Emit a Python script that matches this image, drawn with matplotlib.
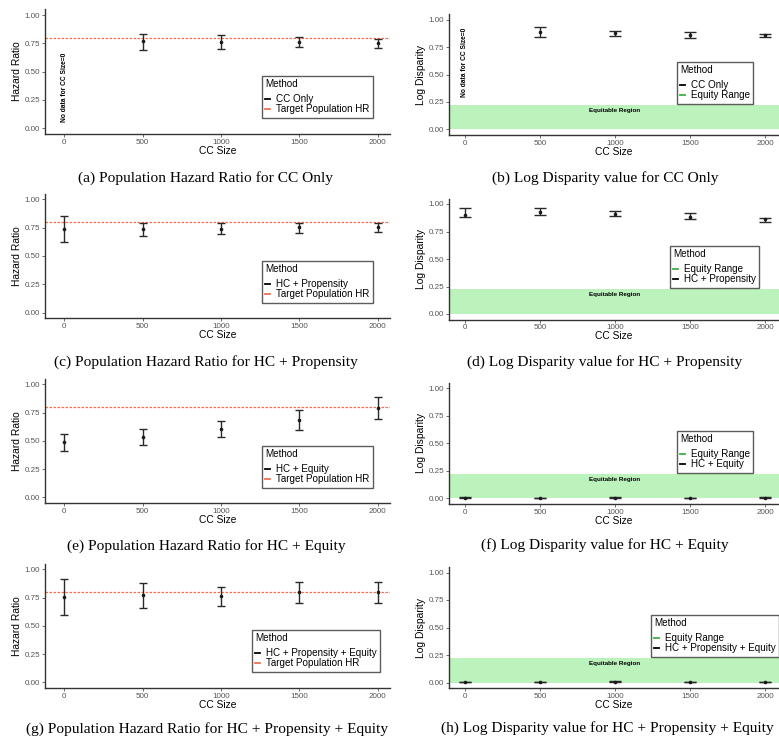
import matplotlib
matplotlib.use("Agg")
import matplotlib.pyplot as plt
from matplotlib.lines import Line2D

plt.rcParams['font.family'] = ['Liberation Sans', 'DejaVu Sans']

# ---------------- data ----------------
cc_size = [0, 500, 1000, 1500, 2000]
cc_size_nozero = [500, 1000, 1500, 2000]

target_hr = 0.80
equity_lo = 0.0
equity_hi = 0.223

# (a) CC Only - hazard ratio
hr_cc_mean = [0.767, 0.758, 0.762, 0.755]
hr_cc_lo = [0.690, 0.696, 0.713, 0.712]
hr_cc_hi = [0.836, 0.820, 0.810, 0.792]

# (b) CC Only - log disparity
ld_cc_mean = [0.890, 0.884, 0.863, 0.860]
ld_cc_lo = [0.848, 0.854, 0.835, 0.848]
ld_cc_hi = [0.933, 0.902, 0.887, 0.872]

# (c) HC + Propensity - hazard ratio
hr_hcp_mean = [0.738, 0.738, 0.740, 0.756, 0.756]
hr_hcp_lo = [0.620, 0.679, 0.691, 0.706, 0.709]
hr_hcp_hi = [0.856, 0.794, 0.788, 0.794, 0.794]

# (d) HC + Propensity - log disparity
ld_hcp_mean = [0.900, 0.930, 0.910, 0.885, 0.860]
ld_hcp_lo = [0.880, 0.897, 0.888, 0.864, 0.840]
ld_hcp_hi = [0.967, 0.967, 0.940, 0.915, 0.876]

# (e) HC + Equity - hazard ratio
hr_hce_mean = [0.487, 0.534, 0.603, 0.685, 0.788]
hr_hce_lo = [0.410, 0.460, 0.531, 0.596, 0.696]
hr_hce_hi = [0.557, 0.605, 0.675, 0.770, 0.885]

# (f) HC + Equity - log disparity
ld_hce_mean = [0.005, 0.004, 0.006, 0.004, 0.005]
ld_hce_lo = [0.002, 0.001, 0.003, 0.001, 0.002]
ld_hce_hi = [0.008, 0.007, 0.009, 0.007, 0.008]

# (g) HC + Propensity + Equity - hazard ratio
hr_hcpe_mean = [0.758, 0.773, 0.764, 0.796, 0.796]
hr_hcpe_lo = [0.593, 0.655, 0.676, 0.699, 0.699]
hr_hcpe_hi = [0.917, 0.876, 0.847, 0.885, 0.888]

# (h) HC + Propensity + Equity - log disparity
ld_hcpe_mean = [0.006, 0.004, 0.007, 0.005, 0.005]
ld_hcpe_lo = [0.003, 0.001, 0.004, 0.002, 0.002]
ld_hcpe_hi = [0.009, 0.007, 0.010, 0.008, 0.008]

yticks = [0.00, 0.25, 0.50, 0.75, 1.00]
ytick_labels = ["0.00", "0.25", "0.50", "0.75", "1.00"]
xticks = [0, 500, 1000, 1500, 2000]
xtick_labels = ["0", "500", "1000", "1500", "2000"]

titles = [
    "(a) Population Hazard Ratio for CC Only",
    "(b) Log Disparity value for CC Only",
    "(c) Population Hazard Ratio for HC + Propensity",
    "(d) Log Disparity value for HC + Propensity",
    "(e) Population Hazard Ratio for HC + Equity",
    "(f) Log Disparity value for HC + Equity",
    "(g) Population Hazard Ratio for HC + Propensity + Equity",
    "(h) Log Disparity value for HC + Propensity + Equity",
]

# ---------------- layout ----------------
W, H = 779, 740
fig = plt.figure(figsize=(W / 100, H / 100), dpi=100)

RED = '#f07050'
GREEN_FILL = '#bcf2bc'
GREEN_KEY = '#3cb043'
DARK = '#333333'
TICKC = '#555555'


def add_axes(x0, x1, ytop, ybot):
    return fig.add_axes([x0 / W, 1 - ybot / H, (x1 - x0) / W, (ybot - ytop) / H])


def style(ax, ylabel, xlim):
    ax.set_xlim(*xlim)
    ax.set_ylim(-0.05, 1.05)
    ax.set_xticks(xticks)
    ax.set_xticklabels(xtick_labels)
    ax.set_yticks(yticks)
    ax.set_yticklabels(ytick_labels)
    for s in ['top', 'right']:
        ax.spines[s].set_visible(False)
    for s in ['left', 'bottom']:
        ax.spines[s].set_color(DARK)
        ax.spines[s].set_linewidth(1.0)
    ax.tick_params(axis='both', labelsize=5.8, colors=TICKC, length=2, width=0.6,
                   pad=1.5, labelcolor=TICKC)
    ax.set_xlabel("CC Size", fontsize=7.4, labelpad=0, color='black')
    ax.set_ylabel(ylabel, fontsize=7.4, labelpad=2, color='black')


def errbars(ax, x, mean, lo, hi, capsize):
    yerr = [[m - l for m, l in zip(mean, lo)], [h - m for m, h in zip(mean, hi)]]
    ax.errorbar(x, mean, yerr=yerr, fmt='o', color='#1a1a1a', ecolor='#2a2a2a',
                markersize=1.6, elinewidth=1.0, capsize=capsize, capthick=1.0, zorder=3)


def legend(ax, labels, colors, x, y):
    handles = [Line2D([], [], color=c, lw=1.3) for c in colors]
    leg = ax.legend(handles, labels, title="Method", loc='upper left',
                    bbox_to_anchor=(x / W, 1 - y / H), bbox_transform=fig.transFigure,
                    fontsize=7.1, title_fontsize=7.1, handlelength=0.45,
                    handletextpad=0.6, borderpad=0.35, labelspacing=0.0,
                    frameon=True, fancybox=False, borderaxespad=0, alignment='left')
    leg._legend_box.sep = 3.5
    leg.get_frame().set_edgecolor(DARK)
    leg.get_frame().set_linewidth(1.0)
    return leg


def equity_band(ax, xlim):
    ax.axhspan(equity_lo, equity_hi, color=GREEN_FILL, lw=0, zorder=0)
    ax.text(1000, 0.175, "Equitable Region", fontsize=4.5, fontweight='bold',
            ha='center', va='center', zorder=2)


LX = (45, 390)
RX = (449, 779)
Lxlim = (-122, 2078)
Rxlim = (-105, 2092)

left_rows = [(9.4, 133.7), (193.6, 318.4), (378.6, 503.0), (563.7, 688.0)]
right_rows = [(14.5, 134.8), (198.5, 319.5), (382.8, 503.8), (567.0, 688.0)]

DASH = (0, (2.0, 1.2))

# ---- (a)
ax = add_axes(*LX, *left_rows[0])
style(ax, "Hazard Ratio", Lxlim)
ax.axhline(target_hr, color=RED, lw=0.9, ls=DASH, zorder=1)
errbars(ax, cc_size_nozero, hr_cc_mean, hr_cc_lo, hr_cc_hi, 2.7)
ax.text(0, 0.36, "No data for CC Size=0", rotation=90, fontsize=4.8, fontweight='bold',
        ha='center', va='center')
legend(ax, ["CC Only", "Target Population HR"], ['black', RED], 262, 76)

# ---- (b)
ax = add_axes(*RX, *right_rows[0])
style(ax, "Log Disparity", Rxlim)
equity_band(ax, Rxlim)
errbars(ax, cc_size_nozero, ld_cc_mean, ld_cc_lo, ld_cc_hi, 4.0)
ax.text(0, 0.61, "No data for CC Size=0", rotation=90, fontsize=4.8, fontweight='bold',
        ha='center', va='center')
legend(ax, ["CC Only", "Equity Range"], ['black', GREEN_KEY], 677, 62)

# ---- (c)
ax = add_axes(*LX, *left_rows[1])
style(ax, "Hazard Ratio", Lxlim)
ax.axhline(target_hr, color=RED, lw=0.9, ls=DASH, zorder=1)
errbars(ax, cc_size, hr_hcp_mean, hr_hcp_lo, hr_hcp_hi, 2.7)
legend(ax, ["HC + Propensity", "Target Population HR"], ['black', RED], 262, 261)

# ---- (d)
ax = add_axes(*RX, *right_rows[1])
style(ax, "Log Disparity", Rxlim)
equity_band(ax, Rxlim)
errbars(ax, cc_size, ld_hcp_mean, ld_hcp_lo, ld_hcp_hi, 4.0)
legend(ax, ["Equity Range", "HC + Propensity"], [GREEN_KEY, 'black'], 670, 246)

# ---- (e)
ax = add_axes(*LX, *left_rows[2])
style(ax, "Hazard Ratio", Lxlim)
ax.axhline(target_hr, color=RED, lw=0.9, ls=DASH, zorder=1)
errbars(ax, cc_size, hr_hce_mean, hr_hce_lo, hr_hce_hi, 2.7)
legend(ax, ["HC + Equity", "Target Population HR"], ['black', RED], 262, 446)

# ---- (f)
ax = add_axes(*RX, *right_rows[2])
style(ax, "Log Disparity", Rxlim)
equity_band(ax, Rxlim)
errbars(ax, cc_size, ld_hce_mean, ld_hce_lo, ld_hce_hi, 4.0)
legend(ax, ["Equity Range", "HC + Equity"], [GREEN_KEY, 'black'], 677, 431)

# ---- (g)
ax = add_axes(*LX, *left_rows[3])
style(ax, "Hazard Ratio", Lxlim)
ax.axhline(target_hr, color=RED, lw=0.9, ls=DASH, zorder=1)
errbars(ax, cc_size, hr_hcpe_mean, hr_hcpe_lo, hr_hcpe_hi, 2.7)
legend(ax, ["HC + Propensity + Equity", "Target Population HR"], ['black', RED], 252, 630)

# ---- (h)
ax = add_axes(*RX, *right_rows[3])
style(ax, "Log Disparity", Rxlim)
equity_band(ax, Rxlim)
errbars(ax, cc_size, ld_hcpe_mean, ld_hcpe_lo, ld_hcpe_hi, 4.0)
legend(ax, ["Equity Range", "HC + Propensity + Equity"], [GREEN_KEY, 'black'], 651, 615)

# ---- sub-captions
title_pos = [(205, 178), (605, 178), (206, 362), (605, 362),
             (206, 546), (605, 545), (207, 729), (607, 728)]
for t, (x, y) in zip(titles, title_pos):
    fig.text(x / W, 1 - y / H, t, ha='center', va='center', fontsize=11.1,
             family=['Liberation Serif', 'DejaVu Serif'])

fig.savefig("out.png", dpi=100)
